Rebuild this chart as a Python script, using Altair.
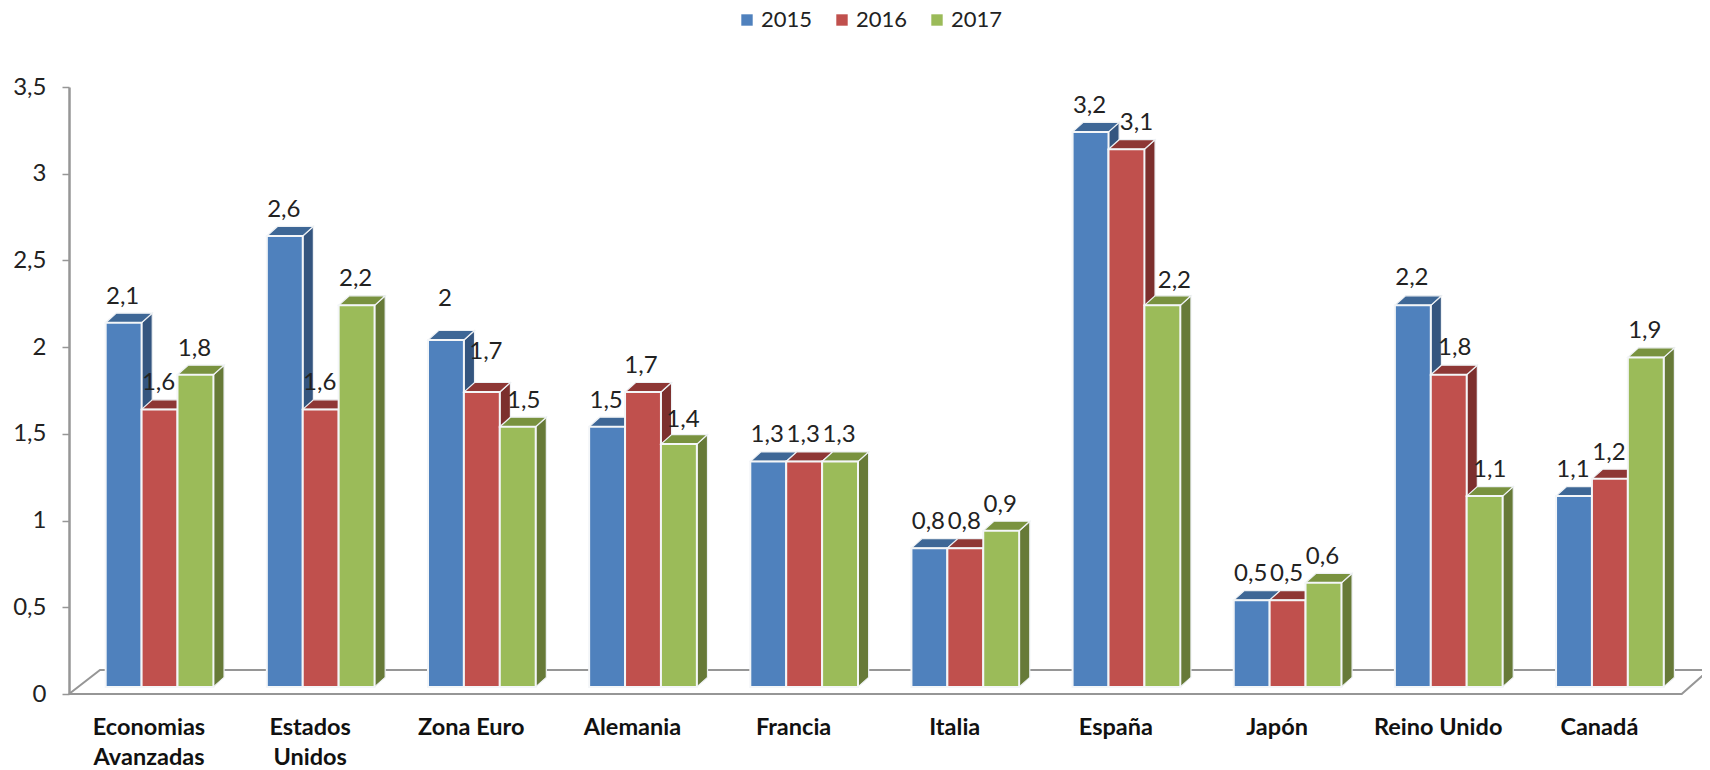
import altair as alt
import pandas as pd

categories = ["Economias\nAvanzadas", "Estados\nUnidos", "Zona Euro", "Alemania", "Francia",
              "Italia", "España", "Japón", "Reino Unido", "Canadá"]
years = ["2015", "2016", "2017"]
v2015 = [2.1, 2.6, 2.0, 1.5, 1.3, 0.8, 3.2, 0.5, 2.2, 1.1]
v2016 = [1.6, 1.6, 1.7, 1.7, 1.3, 0.8, 3.1, 0.5, 1.8, 1.2]
v2017 = [1.8, 2.2, 1.5, 1.4, 1.3, 0.9, 2.2, 0.6, 1.1, 1.9]
series = [v2015, v2016, v2017]
front_colors = ["#4F81BD", "#C0504D", "#9BBB59"]
side_colors = ["#34557F", "#7C2F2D", "#677A38"]
top_colors = ["#3E6796", "#8E3735", "#79923F"]

# hand-moved data labels in the original: (group, series) -> (px right, px up)
label_moves = {(2, 0): (0, 15), (2, 1): (5, 14), (2, 2): (7, 0), (3, 0): (0, 0), (3, 1): (-1, 0),
               (3, 2): (5, -2), (6, 1): (11, 0), (6, 2): (13, -2), (8, 0): (0, 1),
               (8, 1): (7, 1), (8, 2): (6, 0)}

PX_X, PX_Y = 161.15, 173.4
PLOT_W = 1633
X_MIN = -0.2277
X_MAX = X_MIN + PLOT_W / PX_X
BAR_W, DX, LIFT, DY = 0.2228, 0.066, 0.041, 0.055
LABEL_SHIFT = 0.2687
FLOOR_B = 0.138
FLOOR_LEFT = X_MIN + 31 / PX_X
FLOOR_FRONT = X_MIN + 1612.7 / PX_X
FLOOR_TIP = X_MIN + 1640 / PX_X

fronts, sides, tops, texts = [], [], [], []
for j, vals in enumerate(series):
    for i, v in enumerate(vals):
        xl = i + j * BAR_W
        xr = xl + BAR_W
        t = v + LIFT
        key = f"{i}-{j}"
        fronts.append(dict(year=years[j], s=j, x=xl, x2=xr, y=LIFT, y2=t))
        sides += [dict(s=j, k=key, x=xr, y=LIFT, y2=t),
                  dict(s=j, k=key, x=xr + DX, y=LIFT + DY, y2=t + DY)]
        tops += [dict(s=j, k=key, x=xl, y=t, y2=t),
                 dict(s=j, k=key, x=xl + DX, y=t, y2=t + DY),
                 dict(s=j, k=key, x=xr, y=t, y2=t + DY),
                 dict(s=j, k=key, x=xr + DX, y=t + DY, y2=t + DY)]
        mx, my = label_moves.get((i, j), (0, 0))
        texts.append(dict(x=xl + BAR_W / 2 + (mx - 1) / PX_X, y=t + (19 + my) / PX_Y,
                          t=f"{v:g}".replace(".", ",")))
fronts, sides, tops, texts = map(pd.DataFrame, (fronts, sides, tops, texts))

floor = pd.DataFrame([
    dict(o=0, x=X_MIN, y=0), dict(o=1, x=FLOOR_FRONT, y=0),
    dict(o=2, x=FLOOR_TIP, y=FLOOR_B), dict(o=3, x=FLOOR_LEFT, y=FLOOR_B),
    dict(o=4, x=X_MIN, y=0)])
cats = pd.DataFrame(dict(x=[i + LABEL_SHIFT for i in range(10)], t=categories))

xs = alt.Scale(domain=[X_MIN, X_MAX], nice=False, zero=False)
ys = alt.Scale(domain=[0, 3.5], nice=False)
FONT = "Lato"
X = alt.X("x:Q", scale=xs, axis=None)
Y = alt.Y("y:Q", scale=ys, title=None, axis=alt.Axis(
    values=[0, 0.5, 1, 1.5, 2, 2.5, 3, 3.5], format="~g",
    labelExpr="replace(datum.label, '.', ',')", grid=False, title=None,
    domainColor="#969696", domainWidth=2.5, tickColor="#969696", tickWidth=1.5, tickSize=7,
    labelFont=FONT, labelFontSize=24, labelColor="#222222", labelPadding=16))

layers = [alt.Chart(floor).mark_line(color="#969696", strokeWidth=2).encode(x=X, y=Y, order="o:Q")]

for j in range(3):
    layers.append(alt.Chart(sides[sides.s == j]).mark_area(
        color=side_colors[j], stroke="#eef1f4", strokeWidth=1.2).encode(
        x=X, y=Y, y2="y2:Q", detail="k:N"))
    layers.append(alt.Chart(tops[tops.s == j]).mark_area(
        color=top_colors[j], stroke="#eef1f4", strokeWidth=1.2).encode(
        x=X, y=Y, y2="y2:Q", detail="k:N"))
    layers.append(alt.Chart(fronts[fronts.s == j]).mark_rect(
        stroke="#f4f6f8", strokeWidth=2).encode(
        x=X, x2="x2:Q", y=Y, y2="y2:Q",
        color=alt.Color("year:N", scale=alt.Scale(domain=years, range=front_colors), legend=alt.Legend(
            title=None, orient="none", legendX=667, legendY=-78, direction="horizontal",
            symbolType="square", symbolSize=130, symbolStrokeWidth=0, labelFont=FONT,
            labelFontSize=22, labelColor="#222222", columnPadding=18, labelOffset=3, columns=3))))

layers.append(alt.Chart(texts).mark_text(
    font=FONT, fontSize=24, color="#222222", baseline="alphabetic", align="center").encode(
    x=X, y=Y, text="t:N"))
layers.append(alt.Chart(cats).mark_text(
    font=FONT, fontSize=23.5, fontWeight="bold", color="#111111", baseline="alphabetic",
    align="center", lineBreak="\n", lineHeight=30).encode(
    x=X, y=alt.value(648), text="t:N"))

chart = alt.layer(*layers).resolve_scale(color="shared").properties(
    width=PLOT_W, height=607,
    autosize=alt.AutoSizeParams(type="none"),
    padding={"left": 61, "top": 79, "right": 0, "bottom": 76},
).configure_view(stroke=None)

chart.save("out.html", embed_options={"renderer": "svg", "actions": False})
